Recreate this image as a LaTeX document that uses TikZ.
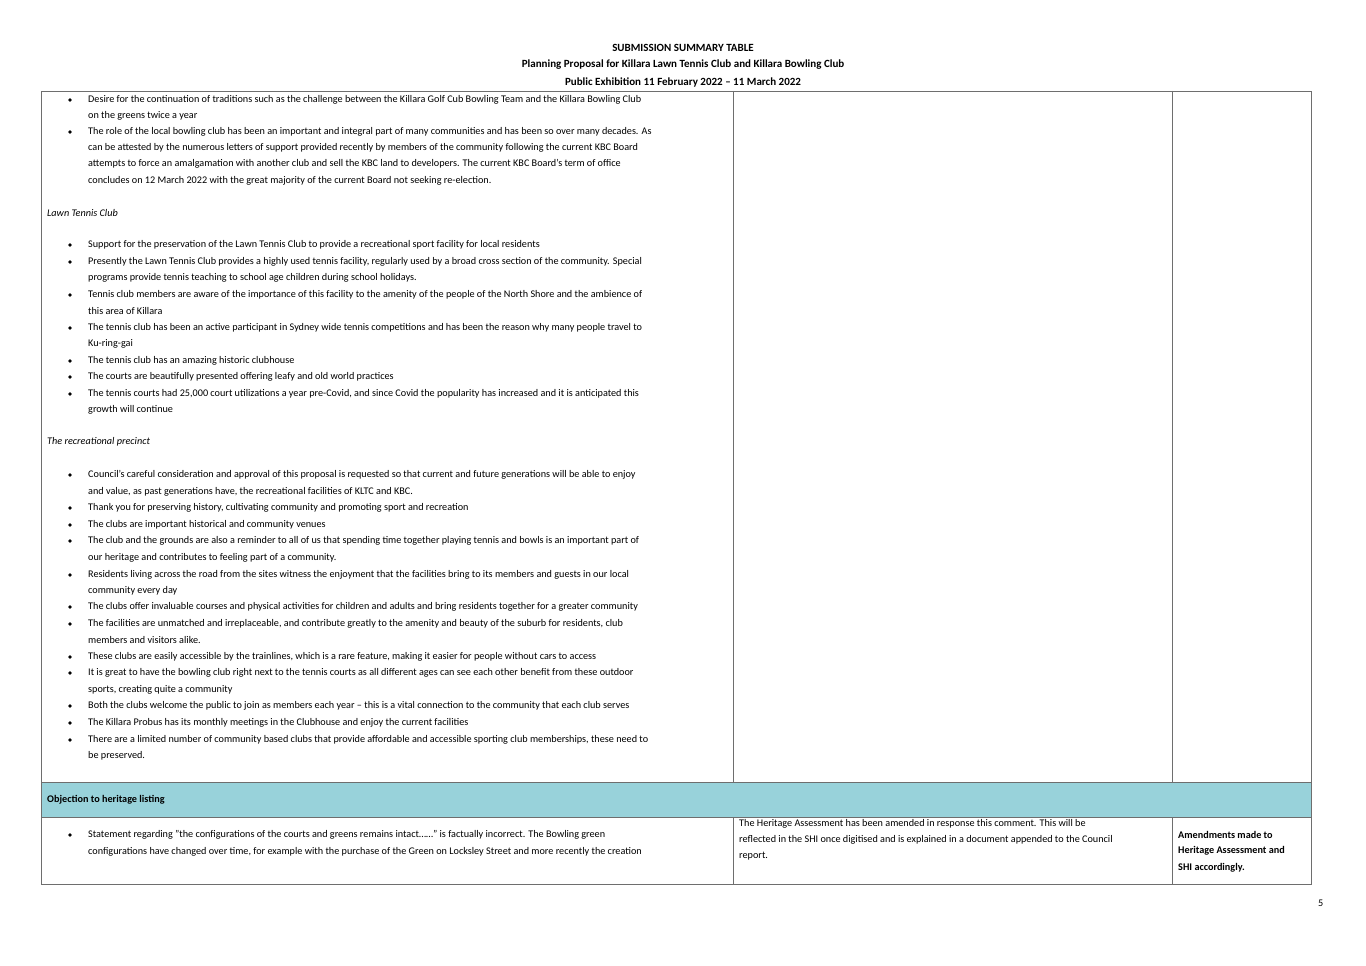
\documentclass[tikz,border=0pt]{standalone}
\usepackage{fontspec}
\setmainfont{Carlito}
\usetikzlibrary{positioning}
\definecolor{rowteal}{RGB}{152,210,218}
\definecolor{rulegray}{RGB}{110,110,110}
\tikzset{%
    txt/.style={anchor=west, inner sep=0pt, font=\fontsize{10.2}{12}\selectfont},
    head/.style={anchor=center, inner sep=0pt, font=\fontsize{11}{13}\selectfont\bfseries},
    dot/.style={circle, fill=black, inner sep=0pt, minimum size=3.6pt}
}
\begin{document}
\begin{tikzpicture}[x=1pt,y=-1pt]
    \useasboundingbox (0,0) rectangle (1366,966);
    \fill[white] (0,0) rectangle (1366,966);

    % header
    \node[head] (h1) at (683,48) {SUBMISSION SUMMARY TABLE};
    \node[head] (h2) at (683,65) {Planning Proposal for Killara Lawn Tennis Club and Killara Bowling Club};
    \node[head] (h3) at (683,82) {Public Exhibition 11 February 2022 – 11 March 2022};

    % table frame
    \fill[rowteal] (41,782) rectangle (1311,817);
    \draw[rulegray] (41,91) rectangle (1311,884);
    \draw[rulegray] (41,782) -- (1311,782);
    \draw[rulegray] (41,817) -- (1311,817);
    \draw[rulegray] (733,91) -- (733,782);
    \draw[rulegray] (1172,91) -- (1172,782);
    \draw[rulegray] (733,817) -- (733,884);
    \draw[rulegray] (1172,817) -- (1172,884);

    % bullet text lines
    \foreach \y/\t [count=\i] in {
        100/{Desire for the continuation of traditions such as the challenge between the Killara Golf Cub Bowling Team and the Killara Bowling Club},
        116/{on the greens twice a year},
        132/{The role of the local bowling club has been an important and integral part of many communities and has been so over many decades. As},
        148/{can be attested by the numerous letters of support provided recently by members of the community following the current KBC Board},
        164/{attempts to force an amalgamation with another club and sell the KBC land to developers. The current KBC Board’s term of office},
        181/{concludes on 12 March 2022 with the great majority of the current Board not seeking re-election.},
        245/{Support for the preservation of the Lawn Tennis Club to provide a recreational sport facility for local residents},
        262/{Presently the Lawn Tennis Club provides a highly used tennis facility, regularly used by a broad cross section of the community. Special},
        278/{programs provide tennis teaching to school age children during school holidays.},
        295/{Tennis club members are aware of the importance of this facility to the amenity of the people of the North Shore and the ambience of},
        311/{this area of Killara},
        328/{The tennis club has been an active participant in Sydney wide tennis competitions and has been the reason why many people travel to},
        344/{Ku-ring-gai},
        361/{The tennis club has an amazing historic clubhouse},
        377/{The courts are beautifully presented offering leafy and old world practices},
        394/{The tennis courts had 25,000 court utilizations a year pre-Covid, and since Covid the popularity has increased and it is anticipated this},
        410/{growth will continue},
        475/{Council’s careful consideration and approval of this proposal is requested so that current and future generations will be able to enjoy},
        492/{and value, as past generations have, the recreational facilities of KLTC and KBC.},
        508/{Thank you for preserving history, cultivating community and promoting sport and recreation},
        525/{The clubs are important historical and community venues},
        541/{The club and the grounds are also a reminder to all of us that spending time together playing tennis and bowls is an important part of},
        558/{our heritage and contributes to feeling part of a community.},
        575/{Residents living across the road from the sites witness the enjoyment that the facilities bring to its members and guests in our local},
        591/{community every day},
        607/{The clubs offer invaluable courses and physical activities for children and adults and bring residents together for a greater community},
        624/{The facilities are unmatched and irreplaceable, and contribute greatly to the amenity and beauty of the suburb for residents, club},
        640/{members and visitors alike.},
        657/{These clubs are easily accessible by the trainlines, which is a rare feature, making it easier for people without cars to access},
        673/{It is great to have the bowling club right next to the tennis courts as all different ages can see each other benefit from these outdoor},
        690/{sports, creating quite a community},
        706/{Both the clubs welcome the public to join as members each year – this is a vital connection to the community that each club serves},
        723/{The Killara Probus has its monthly meetings in the Clubhouse and enjoy the current facilities},
        740/{There are a limited number of community based clubs that provide affordable and accessible sporting club memberships, these need to},
        756/{be preserved.},
        835/{Statement regarding "the configurations of the courts and greens remains intact……" is factually incorrect. The Bowling green},
        852/{configurations have changed over time, for example with the purchase of the Green on Locksley Street and more recently the creation}}
        \node[txt] (line\i) at (88,\y) {\t};

    % bullets
    \foreach \y [count=\i] in {100,132,245,262,295,328,361,377,394,475,508,525,541,575,607,624,657,673,706,723,740,835}
        \node[dot] (bul\i) at (70,\y) {};

    % sub headings
    \node[txt, font=\fontsize{10.2}{12}\selectfont\itshape] (tennis) at (47,213) {Lawn Tennis Club};
    \node[txt, font=\fontsize{10.2}{12}\selectfont\itshape] (precinct) at (47,442) {The recreational precinct};
    \node[txt, font=\fontsize{10.2}{12}\selectfont\bfseries] (objection) at (47,800) {Objection to heritage listing};

    % response column
    \node[txt] (resp1) at (739,824) {The Heritage Assessment has been amended in response this comment. This will be};
    \node[txt] (resp2) at (739,840) {reflected in the SHI once digitised and is explained in a document appended to the Council};
    \node[txt] (resp3) at (739,856) {report.};

    % outcome column
    \node[txt, font=\fontsize{10.2}{12}\selectfont\bfseries] (out1) at (1178,835) {Amendments made to};
    \node[txt, font=\fontsize{10.2}{12}\selectfont\bfseries] (out2) at (1178,851) {Heritage Assessment and};
    \node[txt, font=\fontsize{10.2}{12}\selectfont\bfseries] (out3) at (1178,868) {SHI accordingly.};

    % page number
    \node[txt] (page) at (1318,903) {5};
\end{tikzpicture}
\end{document}
